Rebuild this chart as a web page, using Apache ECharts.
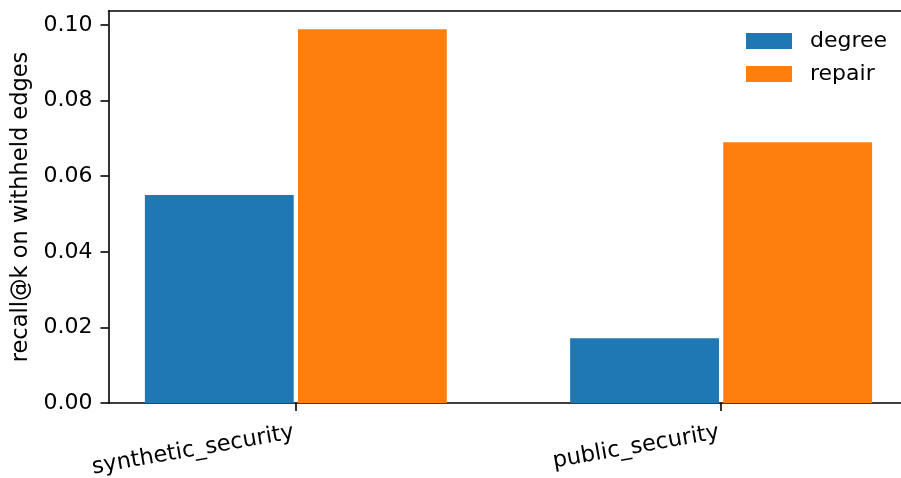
<!DOCTYPE html>
<html>
<head>
<meta charset="utf-8">
<script src="https://cdn.jsdelivr.net/npm/echarts@6/dist/echarts.min.js"></script>
<style>
  html, body { margin: 0; padding: 0; background: #fff; }
  #chart { width: 901px; height: 478px; }
</style>
</head>
<body>
<div id="chart"></div>
<script>
// data
var categories = ['synthetic_security', 'public_security']
var seriesNames = ['degree', 'repair']
var degreeValues = [0.055, 0.0171]
var repairValues = [0.0989, 0.069]
var yTicks = [0, 0.02, 0.04, 0.06, 0.08, 0.10]

var colors = ['#1f77b4', '#ff7f0e']
var barWidth = 0.35
var barOffsets = [-0.18, 0.18]
var font = 'DejaVu Sans'

function barData(values, offset) {
  return values.map(function (v, i) {
    return [i + offset, v]
  })
}

function barSeries(name, values, offset, color) {
  return {
    name: name,
    type: 'custom',
    itemStyle: { color: color },
    encode: { x: 0, y: 1 },
    data: barData(values, offset),
    renderItem: function (params, api) {
      var x = api.value(0)
      var y = api.value(1)
      var p0 = api.coord([x - barWidth / 2, y])
      var p1 = api.coord([x + barWidth / 2, 0])
      return {
        type: 'rect',
        shape: { x: p0[0], y: p0[1], width: p1[0] - p0[0], height: p1[1] - p0[1] },
        style: { fill: color }
      }
    }
  }
}

var spine = { show: true, onZero: false, lineStyle: { color: '#000', width: 1.6 } }

// the right spine of the reference falls outside the picture, so the x range is cut at the edge
var chart = echarts.init(document.getElementById('chart'), null, { renderer: 'canvas' })
chart.setOption({
  animation: false,
  backgroundColor: '#fff',
  textStyle: { fontFamily: font },
  grid: {
    left: 108.5,
    top: 11,
    right: 0,
    bottom: 75,
    containLabel: false,
    outerBoundsMode: 'none'
  },
  legend: {
    data: seriesNames,
    orient: 'vertical',
    left: 746,
    top: 30,
    padding: 0,
    itemWidth: 46,
    itemHeight: 16,
    itemGap: 11,
    icon: 'rect',
    textStyle: { fontSize: 22, color: '#000', fontFamily: font, padding: [0, 0, 0, 13] }
  },
  xAxis: [{
    type: 'value',
    min: -0.4405,
    max: 1.423,
    splitLine: { show: false },
    axisLine: spine,
    axisTick: { show: true, length: 8, customValues: [0, 1], lineStyle: { color: '#000', width: 1.6 } },
    axisLabel: {
      customValues: [0, 1],
      rotate: 10,
      margin: 29,
      padding: [0, 2, 0, 0],
      fontSize: 22.5,
      color: '#000',
      fontFamily: font,
      formatter: function (v) { return categories[Math.round(v)] }
    }
  }, {
    // top spine only
    type: 'value',
    position: 'top',
    min: -0.4405,
    max: 1.423,
    splitLine: { show: false },
    axisLine: spine,
    axisTick: { show: false },
    axisLabel: { show: false }
  }],
  yAxis: {
    type: 'value',
    min: 0,
    max: 0.1037,
    name: 'recall@k on withheld edges',
    nameLocation: 'middle',
    nameGap: 70,
    nameTextStyle: { fontSize: 22.5, color: '#000', fontFamily: font },
    splitLine: { show: false },
    axisLine: spine,
    axisTick: { show: true, length: 8, customValues: yTicks, lineStyle: { color: '#000', width: 1.6 } },
    axisLabel: {
      customValues: yTicks,
      margin: 16,
      fontSize: 22,
      color: '#000',
      fontFamily: font,
      formatter: function (v) { return v.toFixed(2) }
    }
  },
  series: [
    barSeries(seriesNames[0], degreeValues, barOffsets[0], colors[0]),
    barSeries(seriesNames[1], repairValues, barOffsets[1], colors[1])
  ]
})
</script>
</body>
</html>
